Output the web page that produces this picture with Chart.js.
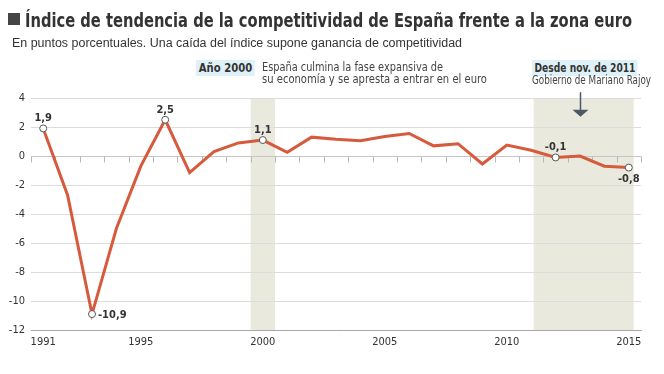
<!DOCTYPE html>
<html lang="es">
<head>
<meta charset="utf-8">
<title>Índice de tendencia de la competitividad de España frente a la zona euro</title>
<script src="https://cdn.jsdelivr.net/npm/chart.js@4/dist/chart.umd.min.js"></script>
<style>
  html, body { margin: 0; padding: 0; background: #fff; }
  #wrap { position: relative; width: 664px; height: 374px; overflow: hidden; }
  #wrap canvas { position: absolute; left: 0; top: 0; }
  .txt { position: absolute; white-space: nowrap; line-height: 1; color: #333; transform-origin: 0 0; }
  .cond { font-family: "Liberation Sans Narrow", "DejaVu Sans Condensed", "Arial Narrow", "Liberation Sans", sans-serif; }
  .tag { background: #dff1f8; padding: 2px 3px 2px 3px; }
  #square { position: absolute; left: 8px; top: 13px; width: 12px; height: 12px; background: #444; }
</style>
</head>
<body>
<div id="wrap">
  <canvas id="chart" width="664" height="374"></canvas>
  <div id="square"></div>
  <div class="txt cond" id="title" style="left:25px; top:11px; font-size:19px; font-weight:bold;">Índice de tendencia de la competitividad de España frente a la zona euro</div>
  <div class="txt" id="subtitle" style="left:12px; top:37px; font-size:12px; font-family:'Liberation Sans', Arial, sans-serif;">En puntos porcentuales. Una caída del índice supone ganancia de competitividad</div>
  <div class="txt cond tag" id="tag2000" style="left:196px; top:60px; font-size:12px; font-weight:bold;">Año 2000</div>
  <div class="txt cond" id="note2000a" style="left:262px; top:61px; font-size:12px; color:#444;">España culmina la fase expansiva de</div>
  <div class="txt cond" id="note2000b" style="left:262px; top:73px; font-size:12px; color:#444;">su economía y se apresta a entrar en el euro</div>
  <div class="txt cond tag" id="tag2011" style="left:532px; top:60px; font-size:12px; font-weight:bold;">Desde nov. de 2011</div>
  <div class="txt cond" id="note2011" style="left:532px; top:74px; font-size:12px; color:#444;">Gobierno de Mariano Rajoy</div>
</div>
<script>
// --- DATA ---
const years = ['1991', '1992', '1993', '1994', '1995', '1996', '1997', '1998', '1999', '2000',
  '2001', '2002', '2003', '2004', '2005', '2006', '2007', '2008', '2009', '2010',
  '2011', '2012', '2013', '2014', '2015'];
const indexValues = [1.9, -2.7, -10.9, -5.0, -0.7, 2.5, -1.15, 0.3, 0.9, 1.1,
  0.25, 1.3, 1.15, 1.05, 1.35, 1.55, 0.7, 0.85, -0.55, 0.75,
  0.4, -0.1, 0.0, -0.7, -0.8];
const xTickLabels = ['1991', '1995', '2000', '2005', '2010', '2015'];
const yTickValues = [4, 2, 0, -2, -4, -6, -8, -10, -12];
const labeledYears = ['1991', '1993', '1996', '2000', '2012', '2015'];
// shaded periods, in fractional years
const highlightBands = [[1999.5, 2000.5], [2011.1, 2015.2]];
const arrowYear = 2013;

// --- STYLE ---
const COND = '"Liberation Sans Narrow", "DejaVu Sans Condensed", "Arial Narrow", "Liberation Sans", sans-serif';
const LINE_COLOR = '#d65a3c';
const BAND_COLOR = '#e9eadd';
const TEXT_COLOR = '#333';

// stretch/squeeze the html texts to the widths they have in the print graphic
function fitWidth(id, target) {
    const el = document.getElementById(id);
    const w = el.getBoundingClientRect().width;
    if (w > 0) el.style.transform = `scaleX(${target / w})`;
}
fitWidth('title', 607);
fitWidth('subtitle', 450);
fitWidth('tag2000', 59);
fitWidth('note2000a', 181);
fitWidth('note2000b', 225);
fitWidth('tag2011', 106);
fitWidth('note2011', 119);

const yearToIndex = y => y - Number(years[0]);
const formatValue = v => v.toFixed(1).replace('.', ',');

// --- PLUGINS ---
const bandsPlugin = {
    id: 'bands',
    beforeDraw(chart) {
        const { ctx, chartArea, scales: { x } } = chart;
        ctx.save();
        ctx.fillStyle = BAND_COLOR;
        highlightBands.forEach(([from, to]) => {
            const x0 = x.getPixelForValue(yearToIndex(from));
            const x1 = x.getPixelForValue(yearToIndex(to));
            ctx.fillRect(x0, chartArea.top, x1 - x0, chartArea.bottom - chartArea.top);
        });
        ctx.restore();
    }
};

const zeroTicksPlugin = {
    id: 'zeroTicks',
    beforeDatasetsDraw(chart) {
        const { ctx, scales: { x, y } } = chart;
        const y0 = Math.round(y.getPixelForValue(0)) + 0.5;
        ctx.save();
        ctx.strokeStyle = '#b8b8b8';
        ctx.lineWidth = 1;
        ctx.beginPath();
        for (let i = 0; i <= years.length; i++) {
            const px = Math.round(x.getPixelForValue(i - 0.5)) + 0.5;
            ctx.moveTo(px, y0);
            ctx.lineTo(px, y0 + 6);
        }
        ctx.stroke();
        ctx.restore();
    }
};

const labelsPlugin = {
    id: 'pointLabels',
    afterDatasetsDraw(chart) {
        const { ctx } = chart;
        const meta = chart.getDatasetMeta(0);
        ctx.save();
        ctx.font = `bold 11px ${COND}`;
        ctx.fillStyle = TEXT_COLOR;
        labeledYears.forEach(yr => {
            const i = years.indexOf(yr);
            const pt = meta.data[i];
            const text = formatValue(indexValues[i]);
            if (yr === '1993') {
                ctx.textAlign = 'left';
                ctx.textBaseline = 'middle';
                ctx.fillText(text, pt.x + 6, pt.y + 1);
            } else if (yr === '2015') {
                ctx.textAlign = 'center';
                ctx.textBaseline = 'top';
                ctx.fillText(text, pt.x, pt.y + 6);
            } else {
                ctx.textAlign = 'center';
                ctx.textBaseline = 'alphabetic';
                ctx.fillText(text, pt.x, pt.y - 7);
            }
        });
        ctx.restore();
    }
};

const arrowPlugin = {
    id: 'arrow',
    afterDraw(chart) {
        const { ctx, scales: { x, y } } = chart;
        const px = Math.round(x.getPixelForValue(yearToIndex(arrowYear))) + 0.5;
        const top = y.getPixelForValue(4.4);
        const tip = y.getPixelForValue(2.7);
        ctx.save();
        ctx.strokeStyle = '#4b5a66';
        ctx.fillStyle = '#4b5a66';
        ctx.lineWidth = 1.5;
        ctx.beginPath();
        ctx.moveTo(px, top);
        ctx.lineTo(px, tip - 5);
        ctx.stroke();
        ctx.beginPath();
        ctx.moveTo(px - 8, tip - 7);
        ctx.lineTo(px + 8, tip - 7);
        ctx.lineTo(px, tip);
        ctx.closePath();
        ctx.fill();
        ctx.restore();
    }
};

// --- CHART ---
new Chart(document.getElementById('chart'), {
    type: 'line',
    data: {
        labels: years,
        datasets: [{
            label: 'Índice de tendencia de la competitividad',
            data: indexValues,
            borderColor: LINE_COLOR,
            borderWidth: 3,
            tension: 0,
            pointRadius: ctx => labeledYears.includes(years[ctx.dataIndex]) ? 3.5 : 0,
            pointHoverRadius: 0,
            pointBackgroundColor: '#fff',
            pointBorderColor: '#555',
            pointBorderWidth: 1
        }]
    },
    options: {
        responsive: false,
        animation: false,
        layout: { padding: { top: 98, right: 23, left: 0, bottom: 0 } },
        plugins: {
            legend: { display: false },
            tooltip: { enabled: false }
        },
        scales: {
            x: {
                type: 'category',
                offset: true,
                grid: { display: false, drawTicks: false },
                border: { display: true, color: '#a8a8a8', width: 1 },
                ticks: {
                    autoSkip: false,
                    maxRotation: 0,
                    padding: 6,
                    color: TEXT_COLOR,
                    font: { family: COND, size: 11 },
                    callback: (val, i) => xTickLabels.includes(years[i]) ? years[i] : ''
                },
                afterFit: s => { s.height = 44; }
            },
            y: {
                min: -12,
                max: 4,
                afterBuildTicks: s => { s.ticks = yTickValues.map(v => ({ value: v })); },
                grid: {
                    drawTicks: false,
                    color: c => c.tick && c.tick.value === 0 ? '#c6c6c6' : '#dcdcdc',
                    lineWidth: 1
                },
                border: { display: false },
                ticks: {
                    padding: 6,
                    color: TEXT_COLOR,
                    font: { family: COND, size: 11 },
                    callback: v => String(v)
                },
                afterFit: s => { s.width = 31; }
            }
        }
    },
    plugins: [bandsPlugin, zeroTicksPlugin, labelsPlugin, arrowPlugin]
});
</script>
</body>
</html>
